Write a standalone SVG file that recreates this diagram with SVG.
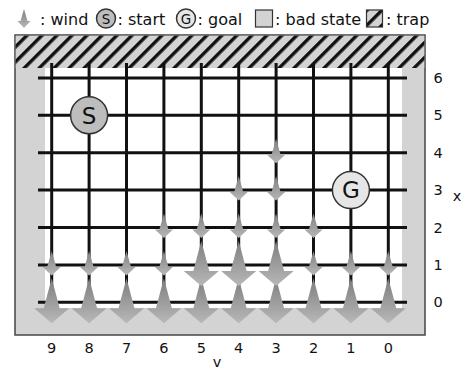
<svg xmlns="http://www.w3.org/2000/svg" width="464" height="369" viewBox="0 0 464 369">
<defs>
<linearGradient id="wg" x1="0" y1="0" x2="0" y2="1">
<stop offset="0" stop-color="#7e7e7e"/>
<stop offset="1" stop-color="#b8b8b8"/>
</linearGradient>
<pattern id="hatch" patternUnits="userSpaceOnUse" width="10.6" height="10.6" patternTransform="rotate(45)">
<rect width="10.6" height="10.6" fill="#d3d3d3"/>
<rect width="3.4" height="10.6" fill="#111"/>
</pattern>
<path id="sa" d="M0,-14 L4.5,2 L9,2 L0,10.5 L-9,2 L-4.5,2 Z"/>
<path id="ba" d="M0,-24 L8,6 L17.5,6 L0,21 L-17.5,6 L-8,6 Z"/>
</defs>
<style>
text{font-family:"DejaVu Sans",Verdana,sans-serif;fill:#111}
.lg{font-size:16px}
.ax{font-size:14.5px;text-anchor:middle}
.wind{fill:url(#wg)}
.grid line{stroke:#111;stroke-width:3}
.node{stroke:#333;stroke-width:1.5}
</style>
<g id="legend">
<path class="wind" d="M24,9 L27.5,21 L30.5,21 L24,28 L17.5,21 L20.5,21 Z"/>
<text class="lg" x="40" y="25">: wind</text>
<circle class="node" cx="106" cy="18.5" r="9.5" fill="#bdbdbd"/>
<text x="106" y="23.5" font-size="13.5" text-anchor="middle">S</text>
<text class="lg" x="117.5" y="25">: start</text>
<circle class="node" cx="186" cy="18.5" r="9.5" fill="#e6e6e6"/>
<text x="186" y="23.5" font-size="13.5" text-anchor="middle">G</text>
<text class="lg" x="197.5" y="25">: goal</text>
<rect x="255.5" y="10" width="17" height="17" fill="#d3d3d3" stroke="#333" stroke-width="1.2"/>
<text class="lg" x="275" y="25">: bad state</text>
<rect x="366.5" y="10" width="16" height="17" fill="url(#hatch)" stroke="#333" stroke-width="1.2"/>
<text class="lg" x="386" y="25">: trap</text>
</g>
<g id="world">
<rect x="15" y="35" width="410" height="300" fill="#d3d3d3" stroke="#444" stroke-width="1.5"/>
<rect x="45" y="68" width="357" height="240" fill="#fff"/>
<rect x="15.75" y="35.75" width="408.5" height="32.25" fill="url(#hatch)"/>
</g>
<g id="connectors" class="grid">
<line x1="38" y1="77.9" x2="407" y2="77.9"/>
<line x1="38" y1="115.3" x2="407" y2="115.3"/>
<line x1="38" y1="152.7" x2="407" y2="152.7"/>
<line x1="38" y1="190.1" x2="407" y2="190.1"/>
<line x1="38" y1="227.5" x2="407" y2="227.5"/>
<line x1="38" y1="264.9" x2="407" y2="264.9"/>
<line x1="38" y1="302.3" x2="407" y2="302.3"/>
<line x1="51.7" y1="63" x2="51.7" y2="316"/>
<line x1="89.1" y1="63" x2="89.1" y2="316"/>
<line x1="126.5" y1="63" x2="126.5" y2="316"/>
<line x1="163.9" y1="63" x2="163.9" y2="316"/>
<line x1="201.3" y1="63" x2="201.3" y2="316"/>
<line x1="238.7" y1="63" x2="238.7" y2="316"/>
<line x1="276.1" y1="63" x2="276.1" y2="316"/>
<line x1="313.5" y1="63" x2="313.5" y2="316"/>
<line x1="350.9" y1="63" x2="350.9" y2="316"/>
<line x1="388.3" y1="63" x2="388.3" y2="316"/>
</g>
<g id="wind" class="wind">
<use href="#ba" x="51.7" y="302.3"/>
<use href="#ba" x="89.1" y="302.3"/>
<use href="#ba" x="126.5" y="302.3"/>
<use href="#ba" x="163.9" y="302.3"/>
<use href="#ba" x="201.3" y="302.3"/>
<use href="#ba" x="238.7" y="302.3"/>
<use href="#ba" x="276.1" y="302.3"/>
<use href="#ba" x="313.5" y="302.3"/>
<use href="#ba" x="350.9" y="302.3"/>
<use href="#ba" x="388.3" y="302.3"/>
<use href="#sa" x="51.7" y="264.9"/>
<use href="#sa" x="89.1" y="264.9"/>
<use href="#sa" x="126.5" y="264.9"/>
<use href="#sa" x="163.9" y="264.9"/>
<use href="#ba" x="201.3" y="264.9"/>
<use href="#ba" x="238.7" y="264.9"/>
<use href="#ba" x="276.1" y="264.9"/>
<use href="#sa" x="313.5" y="264.9"/>
<use href="#sa" x="350.9" y="264.9"/>
<use href="#sa" x="388.3" y="264.9"/>
<use href="#sa" x="163.9" y="227.5"/>
<use href="#sa" x="201.3" y="227.5"/>
<use href="#sa" x="238.7" y="227.5"/>
<use href="#sa" x="276.1" y="227.5"/>
<use href="#sa" x="313.5" y="227.5"/>
<use href="#sa" x="238.7" y="190.1"/>
<use href="#sa" x="276.1" y="190.1"/>
<use href="#sa" x="276.1" y="152.7"/>
</g>
<g id="start">
<circle class="node" cx="89.1" cy="115.3" r="18.5" fill="#bdbdbd"/>
<text x="89.1" y="123.5" font-size="23" text-anchor="middle">S</text>
</g>
<g id="goal">
<circle class="node" cx="350.9" cy="190.1" r="18.5" fill="#e6e6e6"/>
<text x="350.9" y="198.3" font-size="23" text-anchor="middle">G</text>
</g>
<g id="axes">
<text class="ax" x="438" y="83">6</text>
<text class="ax" x="438" y="120.4">5</text>
<text class="ax" x="438" y="157.8">4</text>
<text class="ax" x="438" y="195.2">3</text>
<text class="ax" x="438" y="232.6">2</text>
<text class="ax" x="438" y="270">1</text>
<text class="ax" x="438" y="307.4">0</text>
<text class="ax" x="457" y="201">x</text>
<text class="ax" x="51.7" y="353">9</text>
<text class="ax" x="89.1" y="353">8</text>
<text class="ax" x="126.5" y="353">7</text>
<text class="ax" x="163.9" y="353">6</text>
<text class="ax" x="201.3" y="353">5</text>
<text class="ax" x="238.7" y="353">4</text>
<text class="ax" x="276.1" y="353">3</text>
<text class="ax" x="313.5" y="353">2</text>
<text class="ax" x="350.9" y="353">1</text>
<text class="ax" x="388.3" y="353">0</text>
<text class="ax" x="217" y="367">v</text>
</g>
</svg>
